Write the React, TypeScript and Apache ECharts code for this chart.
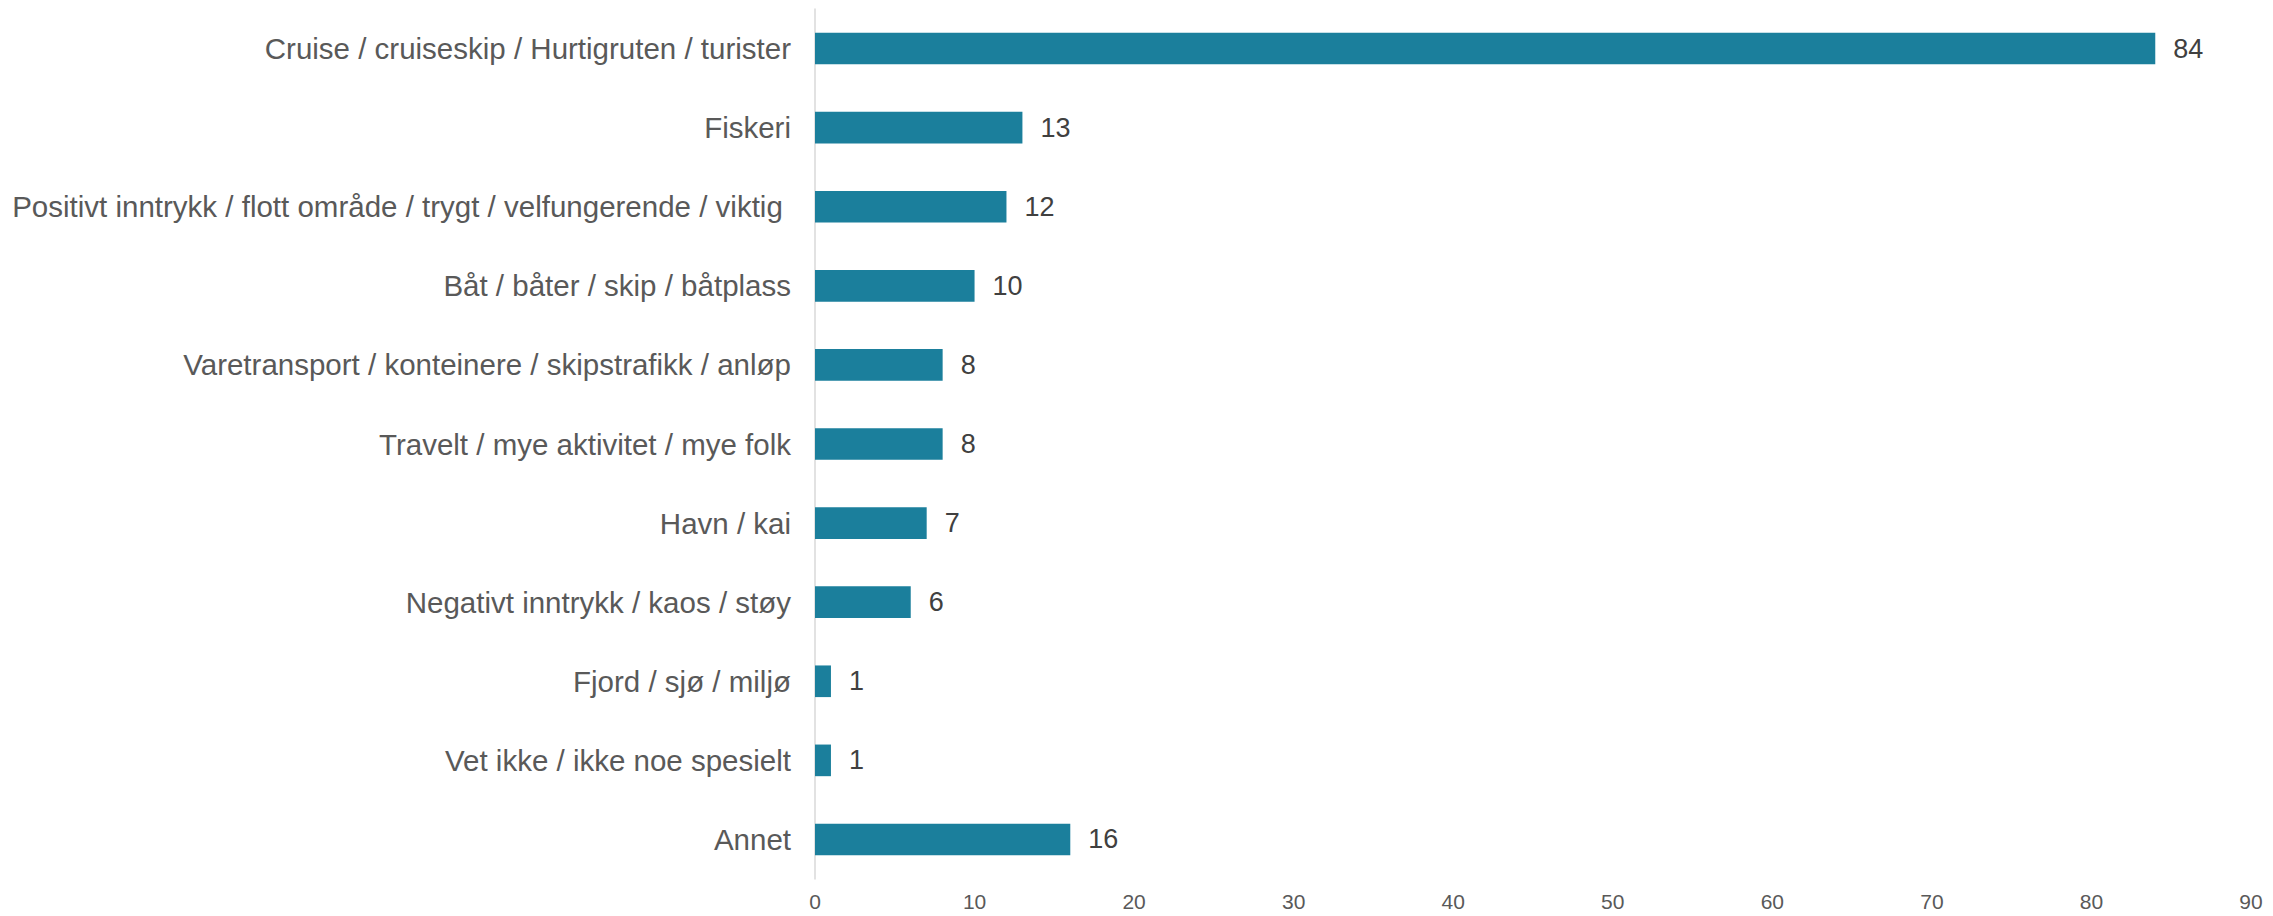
import React, { useEffect, useRef } from "react";
import * as echarts from "echarts";

const categories = [
  "Cruise / cruiseskip / Hurtigruten / turister",
  "Fiskeri",
  "Positivt inntrykk / flott område / trygt / velfungerende / viktig ",
  "Båt / båter / skip / båtplass",
  "Varetransport / konteinere / skipstrafikk / anløp",
  "Travelt / mye aktivitet / mye folk",
  "Havn / kai",
  "Negativt inntrykk / kaos / støy",
  "Fjord / sjø / miljø",
  "Vet ikke / ikke noe spesielt",
  "Annet",
];
const values = [84, 13, 12, 10, 8, 8, 7, 6, 1, 1, 16];
const axisMin = 0;
const axisMax = 90;
const axisStep = 10;

export default function App() {
  const ref = useRef<HTMLDivElement>(null);
  useEffect(() => {
    const chart = echarts.init(ref.current!, null, { renderer: "svg" });
    chart.setOption({
      animation: false,
      backgroundColor: "#ffffff",
      grid: { left: 815, right: 22, top: 9, bottom: 37, containLabel: false },
      xAxis: {
        type: "value",
        min: axisMin,
        max: axisMax,
        interval: axisStep,
        axisLine: { show: false },
        axisTick: { show: false },
        splitLine: { show: false },
        axisLabel: {
          color: "#595959",
          fontFamily: "Liberation Sans",
          fontSize: 21,
          margin: 12,
        },
      },
      yAxis: {
        type: "category",
        inverse: true,
        data: categories,
        axisLine: { show: true, lineStyle: { color: "#d9d9d9", width: 1.5 } },
        axisTick: { show: false },
        axisLabel: {
          color: "#595959",
          fontFamily: "Liberation Sans",
          fontSize: 29.5,
          margin: 24,
        },
      },
      series: [
        {
          type: "bar",
          data: values,
          barWidth: "40%",
          itemStyle: { color: "#1b7f9c" },
          label: {
            show: true,
            position: "right",
            distance: 18,
            color: "#404040",
            fontFamily: "Liberation Sans",
            fontSize: 27,
          },
        },
      ],
    });
    return () => chart.dispose();
  }, []);
  return (
    <div
      ref={ref}
      style={{ position: "fixed", left: 0, top: 0, width: 2273, height: 916 }}
    />
  );
}
